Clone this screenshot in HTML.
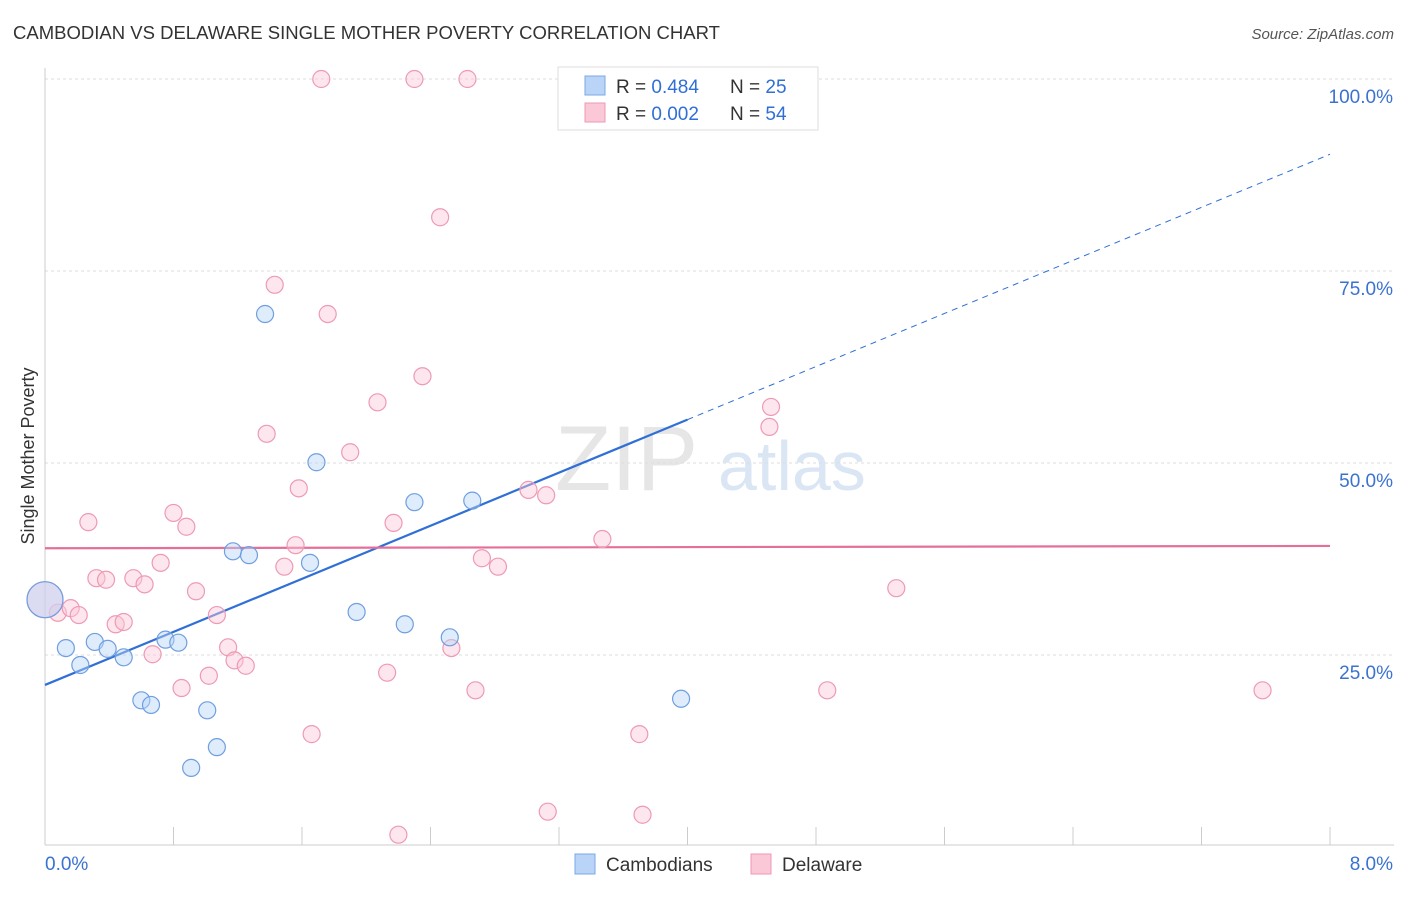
<!DOCTYPE html>
<html><head><meta charset="utf-8"><style>
body{margin:0;background:#fff;font-family:"Liberation Sans",sans-serif}
svg text{font-family:"Liberation Sans",sans-serif}
</style></head><body>
<svg id="chart" width="1406" height="892" xmlns="http://www.w3.org/2000/svg">
<text x="13" y="39" font-size="18" fill="#333" textLength="707" lengthAdjust="spacingAndGlyphs">CAMBODIAN VS DELAWARE SINGLE MOTHER POVERTY CORRELATION CHART</text>
<text x="1394" y="39" font-size="15" fill="#555" text-anchor="end" font-style="italic">Source: ZipAtlas.com</text>
<text x="555" y="490" font-size="92" fill="#e6e6e6" font-family="Liberation Serif">ZIP</text>
<text x="718" y="490" font-size="70" fill="#dbe6f5">atlas</text>
<text transform="translate(34,456) rotate(-90)" font-size="18" fill="#333" text-anchor="middle">Single Mother Poverty</text>
<g id="grid"></g><g id="axes"></g><g id="trends"></g><g id="points"></g>
<g>
<rect x="558" y="67" width="260" height="63" fill="#fff" stroke="#ddd"/>
<rect x="585" y="76" width="20" height="19" fill="#b9d4f7" stroke="#7aa7e6"/>
<rect x="585" y="103" width="20" height="19" fill="#fac8d7" stroke="#ee9ab4"/>
<text x="616" y="93" font-size="19" fill="#333">R = <tspan fill="#2f6fd6">0.484</tspan></text>
<text x="730" y="93" font-size="19" fill="#333">N = <tspan fill="#2f6fd6">25</tspan></text>
<text x="616" y="120" font-size="19" fill="#333">R = <tspan fill="#2f6fd6">0.002</tspan></text>
<text x="730" y="120" font-size="19" fill="#333">N = <tspan fill="#2f6fd6">54</tspan></text>
</g>
<g>
<rect x="575" y="854" width="20" height="20" fill="#b9d4f7" stroke="#7aa7e6"/>
<text x="606" y="871" font-size="19" fill="#333">Cambodians</text>
<rect x="751" y="854" width="20" height="20" fill="#fac8d7" stroke="#ee9ab4"/>
<text x="782" y="871" font-size="19" fill="#333">Delaware</text>
</g>
</svg>
<script>
const yTicks=[25,50,75,100];
const yTickLabels=["25.0%","50.0%","75.0%","100.0%"];
const xTicks=[0,0.8,1.6,2.4,3.2,4.0,4.8,5.6,6.4,7.2,8.0];
const blueX=[0,0.13,0.22,0.31,0.39,0.49,0.60,0.66,0.75,0.83,0.91,1.01,1.07,1.17,1.27,1.37,1.65,1.69,1.94,2.24,2.30,2.52,2.66,3.72,3.96];
const blueY=[32.2,25.9,23.7,26.7,25.8,24.7,19.1,18.5,27.0,26.6,10.3,17.8,13.0,38.5,38.0,69.4,37.0,50.1,30.6,29.0,44.9,27.3,45.1,100,19.3];
const pinkX=[1.72,2.30,2.63,2.46,1.43,1.76,2.35,2.07,1.38,1.90,1.58,0.27,0.80,0.88,2.17,3.01,3.12,4.52,4.51,3.47,1.56,2.72,2.82,1.49,0.72,0.32,0.38,0.55,0.62,0.94,0.08,0.16,0.21,1.07,0.44,0.49,1.14,0.67,1.18,1.25,1.02,2.13,0.85,2.68,4.87,7.58,5.30,1.66,3.70,2.53,3.13,3.72,2.20,0];
const pinkY=[100,100,100,82.0,73.2,69.4,61.3,57.9,53.8,51.4,46.7,42.3,43.5,41.7,42.2,46.5,45.8,57.3,54.7,40.1,39.3,37.6,36.5,36.5,37.0,35.0,34.8,35.0,34.2,33.3,30.5,31.1,30.2,30.2,29.0,29.3,26.0,25.1,24.3,23.6,22.3,22.7,20.7,20.4,20.4,20.4,33.7,14.7,14.7,25.9,4.6,4.2,1.6,32.2];
const blueTrend=[21.1,90.2];
const pinkTrend=[38.9,39.2];
const blueSolidEnd=4.0;
const NS="http://www.w3.org/2000/svg";
const sx=v=>45+v/8*1285, sy=v=>847-v*7.68;
function mk(tag,attrs,parent){const e=document.createElementNS(NS,tag);for(const k in attrs)e.setAttribute(k,attrs[k]);document.getElementById(parent).appendChild(e);return e;}
yTicks.forEach((t,i)=>{
 const l=mk('line',{x1:45,x2:1394,y1:sy(t),y2:sy(t),stroke:'#ddd','stroke-dasharray':'3,3'},'grid');
 
 
 const tx=mk('text',{x:1393,y:sy(t)+24,'font-size':19,fill:'#3a72d0','text-anchor':'end'},'grid');
 tx.textContent=yTickLabels[i];
 
 
});
const ax=mk('line',{x1:45,x2:45,y1:68,y2:845,stroke:'#ccc'},'axes');


const bx=mk('line',{x1:45,x2:1394,y1:845,y2:845,stroke:'#ccc'},'axes');


xTicks.forEach(t=>{const l=mk('line',{x1:sx(t),x2:sx(t),y1:827,y2:845,stroke:'#ccc'},'axes');
 
 });
const x0=mk('text',{x:45,y:870,'font-size':19,fill:'#3a72d0'},'axes');x0.textContent='0.0%';


const x1=mk('text',{x:1393,y:870,'font-size':19,fill:'#3a72d0','text-anchor':'end'},'axes');x1.textContent='8.0%';


function pts(X,Y,fill,stroke,name){X.forEach((x,i)=>{const big=(x===0);
 const c=mk('circle',{cx:sx(x),cy:sy(Y[i]),r:big?18:8.5,fill:fill,'fill-opacity':big?0.5:0.45,stroke:stroke,'stroke-width':1.2},'points');
 
 });}
pts(pinkX,pinkY,'#fac8d7','#ee9ab4','delaware-point');
pts(blueX,blueY,'#b9d4f7','#6f9fe0','cambodian-point');
const bAt=v=>blueTrend[0]+(blueTrend[1]-blueTrend[0])*v/8;
const t1=mk('line',{x1:sx(0),y1:sy(bAt(0)),x2:sx(blueSolidEnd),y2:sy(bAt(blueSolidEnd)),stroke:'#2f6fd6','stroke-width':2.2},'trends');


const t2=mk('line',{x1:sx(blueSolidEnd),y1:sy(bAt(blueSolidEnd)),x2:sx(8),y2:sy(bAt(8)),stroke:'#2f6fd6','stroke-width':1,'stroke-dasharray':'6,5'},'trends');


const t3=mk('line',{x1:sx(0),y1:sy(pinkTrend[0]),x2:sx(8),y2:sy(pinkTrend[1]),stroke:'#e4709a','stroke-width':2.2},'trends');


</script>
</body></html>
